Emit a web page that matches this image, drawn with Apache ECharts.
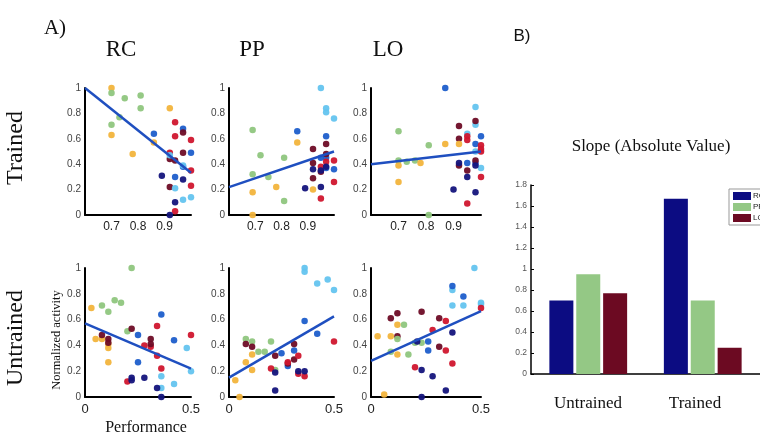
<!DOCTYPE html>
<html>
<head>
<meta charset="utf-8">
<script src="https://cdn.jsdelivr.net/npm/echarts@6/dist/echarts.min.js"></script>
<style>
  html, body { margin: 0; background: #fff; }
  #main { width: 760px; height: 439px; }
</style>
</head>
<body>
<div id="main"></div>
<script>
// regions and conditions
const regions = ['RC', 'PP', 'LO'];
const conditions = ['Untrained', 'Trained'];

// fitted lines: signed slope and value at left edge of the x range
const trainedSlope = [-1.67, 0.70, 0.25];
const untrainedSlope = [-0.70, 0.95, 0.77];
const trainedStart = [1.0, 0.22, 0.40];
const untrainedStart = [0.57, 0.15, 0.28];

// axis ranges / ticks
const trainedRange = [0.6, 1.0];
const untrainedRange = [0, 0.5];
const trainedTicks = [0.7, 0.8, 0.9];
const untrainedTicks = [0, 0.5];

// point groups: Y yellow, G green, N navy, B blue, C cyan, R red, M maroon
const rcTrained = [
  [0.70, 1.00, 'Y'], [0.70, 0.63, 'Y'], [0.78, 0.48, 'Y'], [0.92, 0.84, 'Y'], [0.86, 0.57, 'Y'],
  [0.70, 0.96, 'G'], [0.75, 0.92, 'G'], [0.81, 0.94, 'G'], [0.81, 0.84, 'G'], [0.73, 0.77, 'G'], [0.70, 0.71, 'G'],
  [0.86, 0.64, 'B'], [0.97, 0.68, 'B'], [1.00, 0.49, 'B'], [0.94, 0.30, 'B'], [0.97, 0.38, 'B'],
  [0.94, 0.73, 'R'], [0.94, 0.62, 'R'], [1.00, 0.59, 'R'], [0.92, 0.49, 'R'], [1.00, 0.35, 'R'], [1.00, 0.23, 'R'], [0.94, 0.03, 'R'],
  [0.97, 0.65, 'M'], [0.92, 0.44, 'M'], [0.94, 0.43, 'M'], [0.97, 0.49, 'M'], [0.92, 0.22, 'M'],
  [0.92, 0.47, 'C'], [0.97, 0.39, 'C'], [0.94, 0.21, 'C'], [0.97, 0.12, 'C'], [1.00, 0.14, 'C'],
  [0.89, 0.31, 'N'], [0.97, 0.28, 'N'], [0.94, 0.10, 'N'], [0.92, 0.00, 'N']
];
const ppTrained = [
  [0.95, 1.00, 'C'], [0.97, 0.84, 'C'], [0.97, 0.81, 'C'], [1.00, 0.76, 'C'],
  [0.69, 0.67, 'G'], [0.72, 0.47, 'G'], [0.81, 0.45, 'G'], [0.69, 0.32, 'G'], [0.75, 0.30, 'G'], [0.81, 0.11, 'G'],
  [0.86, 0.57, 'Y'], [0.78, 0.22, 'Y'], [0.69, 0.18, 'Y'], [0.92, 0.20, 'Y'], [0.69, 0.00, 'Y'],
  [0.86, 0.66, 'B'], [0.97, 0.62, 'B'], [0.95, 0.45, 'B'], [0.97, 0.45, 'B'], [1.00, 0.36, 'B'], [0.97, 0.37, 'B'],
  [0.97, 0.56, 'M'], [0.92, 0.52, 'M'], [0.97, 0.48, 'M'], [0.92, 0.41, 'M'], [0.92, 0.29, 'M'], [0.95, 0.34, 'M'],
  [1.00, 0.43, 'R'], [0.95, 0.38, 'R'], [0.97, 0.42, 'R'], [1.00, 0.26, 'R'], [0.95, 0.13, 'R'],
  [0.92, 0.36, 'N'], [0.97, 0.38, 'N'], [0.89, 0.21, 'N'], [0.95, 0.22, 'N'], [0.95, 0.35, 'N']
];
const loTrained = [
  [0.87, 1.00, 'B'], [1.00, 0.62, 'B'], [0.98, 0.56, 'B'], [0.95, 0.41, 'B'], [0.98, 0.41, 'B'],
  [0.98, 0.85, 'C'], [0.98, 0.71, 'C'], [0.95, 0.64, 'C'], [0.98, 0.50, 'C'], [1.00, 0.37, 'C'],
  [0.92, 0.70, 'M'], [0.98, 0.74, 'M'], [0.92, 0.60, 'M'], [0.92, 0.39, 'M'], [0.95, 0.35, 'M'], [0.98, 0.43, 'M'],
  [0.95, 0.62, 'R'], [0.95, 0.59, 'R'], [1.00, 0.55, 'R'], [1.00, 0.52, 'R'], [1.00, 0.50, 'R'], [1.00, 0.30, 'R'], [0.95, 0.09, 'R'],
  [0.70, 0.66, 'G'], [0.81, 0.55, 'G'], [0.70, 0.43, 'G'], [0.73, 0.42, 'G'], [0.76, 0.43, 'G'], [0.81, 0.00, 'G'],
  [0.92, 0.56, 'Y'], [0.87, 0.56, 'Y'], [0.70, 0.39, 'Y'], [0.78, 0.41, 'Y'], [0.70, 0.26, 'Y'],
  [0.92, 0.41, 'N'], [0.95, 0.30, 'N'], [0.90, 0.20, 'N'], [0.98, 0.18, 'N'], [0.98, 0.39, 'N']
];
const rcUntrained = [
  [0.22, 1.00, 'G'], [0.14, 0.75, 'G'], [0.17, 0.73, 'G'], [0.08, 0.71, 'G'], [0.11, 0.66, 'G'], [0.20, 0.51, 'G'],
  [0.03, 0.69, 'Y'], [0.05, 0.45, 'Y'], [0.08, 0.45, 'Y'], [0.11, 0.41, 'Y'], [0.11, 0.38, 'Y'], [0.11, 0.27, 'Y'],
  [0.36, 0.64, 'B'], [0.25, 0.48, 'B'], [0.42, 0.44, 'B'], [0.25, 0.27, 'B'],
  [0.34, 0.55, 'R'], [0.50, 0.48, 'R'], [0.28, 0.40, 'R'], [0.31, 0.39, 'R'], [0.34, 0.32, 'R'], [0.36, 0.22, 'R'], [0.20, 0.12, 'R'],
  [0.22, 0.53, 'M'], [0.08, 0.48, 'M'], [0.11, 0.45, 'M'], [0.11, 0.42, 'M'], [0.31, 0.45, 'M'], [0.31, 0.41, 'M'],
  [0.48, 0.38, 'C'], [0.50, 0.20, 'C'], [0.36, 0.16, 'C'], [0.42, 0.10, 'C'], [0.36, 0.07, 'C'],
  [0.22, 0.15, 'N'], [0.22, 0.13, 'N'], [0.28, 0.15, 'N'], [0.34, 0.07, 'N'], [0.36, 0.00, 'N']
];
const ppUntrained = [
  [0.36, 1.00, 'C'], [0.36, 0.97, 'C'], [0.47, 0.91, 'C'], [0.42, 0.88, 'C'], [0.50, 0.83, 'C'],
  [0.36, 0.59, 'B'], [0.42, 0.49, 'B'], [0.25, 0.34, 'B'], [0.31, 0.36, 'B'], [0.28, 0.24, 'B'],
  [0.08, 0.45, 'G'], [0.11, 0.43, 'G'], [0.20, 0.43, 'G'], [0.14, 0.35, 'G'], [0.17, 0.35, 'G'], [0.22, 0.21, 'G'],
  [0.08, 0.41, 'M'], [0.11, 0.39, 'M'], [0.31, 0.41, 'M'], [0.22, 0.32, 'M'], [0.31, 0.29, 'M'], [0.28, 0.26, 'M'],
  [0.50, 0.43, 'R'], [0.33, 0.32, 'R'], [0.28, 0.27, 'R'], [0.20, 0.22, 'R'], [0.33, 0.18, 'R'], [0.36, 0.16, 'R'],
  [0.11, 0.33, 'Y'], [0.08, 0.27, 'Y'], [0.11, 0.21, 'Y'], [0.03, 0.13, 'Y'], [0.05, 0.00, 'Y'],
  [0.22, 0.19, 'N'], [0.33, 0.20, 'N'], [0.36, 0.20, 'N'], [0.22, 0.05, 'N']
];
const loUntrained = [
  [0.47, 1.00, 'C'], [0.37, 0.83, 'C'], [0.37, 0.71, 'C'], [0.42, 0.71, 'C'], [0.50, 0.73, 'C'], [0.50, 0.72, 'C'],
  [0.37, 0.86, 'B'], [0.42, 0.78, 'B'], [0.26, 0.43, 'B'], [0.26, 0.36, 'B'],
  [0.50, 0.69, 'R'], [0.34, 0.59, 'R'], [0.28, 0.52, 'R'], [0.34, 0.36, 'R'], [0.37, 0.26, 'R'], [0.20, 0.23, 'R'],
  [0.09, 0.61, 'M'], [0.12, 0.65, 'M'], [0.23, 0.66, 'M'], [0.31, 0.61, 'M'], [0.12, 0.47, 'M'], [0.31, 0.39, 'M'],
  [0.12, 0.56, 'Y'], [0.03, 0.47, 'Y'], [0.09, 0.47, 'Y'], [0.12, 0.33, 'Y'], [0.06, 0.02, 'Y'],
  [0.15, 0.56, 'G'], [0.12, 0.45, 'G'], [0.20, 0.42, 'G'], [0.23, 0.42, 'G'], [0.09, 0.35, 'G'], [0.17, 0.33, 'G'],
  [0.37, 0.50, 'N'], [0.21, 0.43, 'N'], [0.23, 0.21, 'N'], [0.28, 0.16, 'N'], [0.34, 0.05, 'N'], [0.23, 0.00, 'N']
];

const dotColors = {
  Y: '#f2b43c', G: '#8fc67e', N: '#14147c', B: '#1d5ecb',
  C: '#64c4ef', R: '#d0162e', M: '#6e0c26'
};
const barColors = ['#0c0c82', '#94c885', '#6c0a22'];
const lineColor = '#1f4fc0';
const serif = 'Liberation Serif';
const sans = 'Liberation Sans';

const chart = echarts.init(document.getElementById('main'));

const cols = [{ left: 85, width: 106 }, { left: 229, width: 105 }, { left: 371, width: 110 }];
const rows = [{ top: 88, height: 127 }, { top: 268, height: 129 }];

const panels = [
  { row: 0, col: 0, data: rcTrained, slope: trainedSlope[0], start: trainedStart[0] },
  { row: 0, col: 1, data: ppTrained, slope: trainedSlope[1], start: trainedStart[1] },
  { row: 0, col: 2, data: loTrained, slope: trainedSlope[2], start: trainedStart[2] },
  { row: 1, col: 0, data: rcUntrained, slope: untrainedSlope[0], start: untrainedStart[0] },
  { row: 1, col: 1, data: ppUntrained, slope: untrainedSlope[1], start: untrainedStart[1] },
  { row: 1, col: 2, data: loUntrained, slope: untrainedSlope[2], start: untrainedStart[2] }
];

const grid = [], xAxis = [], yAxis = [], series = [];

panels.forEach((p, i) => {
  const range = p.row === 0 ? trainedRange : untrainedRange;
  const ticks = p.row === 0 ? trainedTicks : untrainedTicks;
  grid.push({ left: cols[p.col].left, width: cols[p.col].width, top: rows[p.row].top, height: rows[p.row].height });
  xAxis.push({
    gridIndex: i, type: 'value', min: range[0], max: range[1],
    interval: p.row === 0 ? 0.1 : 0.5,
    axisLine: { lineStyle: { color: '#000', width: 2 } },
    axisTick: { show: false }, splitLine: { show: false },
    axisLabel: {
      fontFamily: sans, fontSize: p.row === 0 ? 12 : 13, color: '#222', margin: 6,
      formatter: v => {
        const t = ticks.find(k => Math.abs(k - v) < 1e-6);
        return t === undefined ? '' : String(t);
      }
    }
  });
  yAxis.push({
    gridIndex: i, type: 'value', min: 0, max: 1, interval: 0.2,
    axisLine: { show: true, lineStyle: { color: '#000', width: 2 } },
    axisTick: { show: false }, splitLine: { show: false },
    axisLabel: {
      fontFamily: sans, fontSize: 10, color: '#444', margin: 4,
      formatter: v => (v === 0 ? '0' : Math.abs(v - 1) < 1e-6 ? '1' : v.toFixed(1))
    }
  });
  series.push({
    name: 'pts' + i, type: 'scatter', xAxisIndex: i, yAxisIndex: i,
    symbolSize: 6.5, data: p.data, z: 3,
    itemStyle: { color: params => dotColors[params.data[2]], opacity: 0.95 }
  });
  series.push({
    name: 'fit' + i, type: 'line', xAxisIndex: i, yAxisIndex: i,
    symbol: 'none', z: 4, silent: true,
    lineStyle: { color: lineColor, width: 2.5 },
    data: [[range[0], p.start], [range[1], p.start + p.slope * (range[1] - range[0])]]
  });
});

// bar chart of absolute slopes
grid.push({ left: 531, top: 185, width: 242, height: 189 });
xAxis.push({
  gridIndex: 6, type: 'category', data: conditions,
  axisLine: { lineStyle: { color: '#000', width: 1.5 } },
  axisTick: { show: false }, axisLabel: { show: false }
});
yAxis.push({
  gridIndex: 6, type: 'value', min: 0, max: 1.8, interval: 0.2,
  axisLine: { show: true, lineStyle: { color: '#000', width: 1.5 } },
  axisTick: { show: true, inside: true, length: 3, lineStyle: { color: '#000' } },
  splitLine: { show: false },
  axisLabel: {
    fontFamily: sans, fontSize: 8.5, color: '#555', margin: 4,
    formatter: v => (v === 0 ? '0' : Math.abs(v - 1) < 1e-6 ? '1' : v.toFixed(1))
  }
});
regions.forEach((r, k) => {
  series.push({
    name: r, type: 'bar', xAxisIndex: 6, yAxisIndex: 6,
    barWidth: 24, barGap: '12%',
    itemStyle: { color: barColors[k] },
    data: [Math.abs(untrainedSlope[k]), Math.abs(trainedSlope[k])]
  });
});

function txt(text, x, y, size, font, opts) {
  return Object.assign({
    type: 'text', x: x, y: y,
    style: {
      text: text, font: size + 'px "' + font + '"', fill: '#111',
      textAlign: 'center', align: 'center',
      textVerticalAlign: 'middle', verticalAlign: 'middle'
    }
  }, opts || {});
}

chart.setOption({
  animation: false,
  backgroundColor: '#fff',
  grid: grid, xAxis: xAxis, yAxis: yAxis, series: series,
  legend: {
    data: regions, orient: 'vertical', left: 729, top: 189,
    itemWidth: 18, itemHeight: 8, itemGap: 3, icon: 'rect',
    padding: [3, 2, 3, 4], borderColor: '#999', borderWidth: 1, backgroundColor: '#fff',
    textStyle: { fontFamily: sans, fontSize: 8, color: '#222', padding: [0, 0, 0, -3] }
  },
  graphic: [
    txt('A)', 55, 28, 21, serif),
    txt('RC', 121, 50, 23, serif),
    txt('PP', 252, 50, 23, serif),
    txt('LO', 388, 50, 23, serif),
    txt('B)', 522, 36, 17, sans),
    txt('Trained', 16, 148, 24, serif, { rotation: Math.PI / 2 }),
    txt('Untrained', 16, 338, 24, serif, { rotation: Math.PI / 2 }),
    txt('Normalized activity', 57, 340, 12.5, serif, { rotation: Math.PI / 2 }),
    txt('Performance', 146, 428, 16, serif),
    txt('Slope (Absolute Value)', 651, 147, 17, serif),
    txt('Untrained', 588, 404, 17, serif),
    txt('Trained', 695, 404, 17, serif)
  ]
});
</script>
</body>
</html>
